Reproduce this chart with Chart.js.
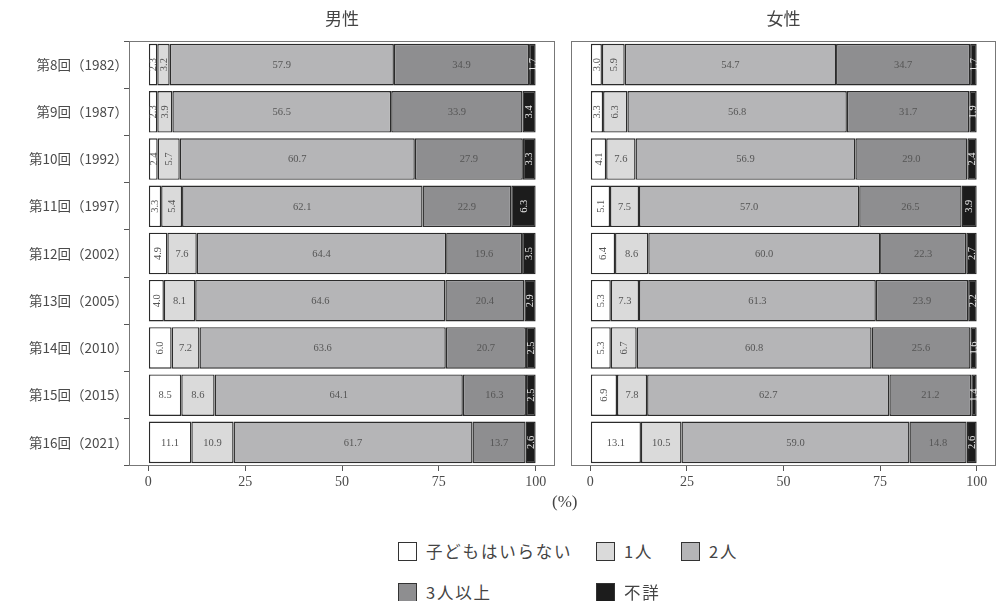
<!DOCTYPE html>
<html>
<head>
<meta charset="utf-8">
<script src="https://cdn.jsdelivr.net/npm/chart.js@4/dist/chart.umd.min.js"></script>
<style>
  html, body { margin:0; padding:0; background:#fff; }
  #wrap { position:relative; width:998px; height:601px; overflow:hidden; font-family:"Noto Sans CJK JP", sans-serif; color:#3a3a3a; }
  .box { position:absolute; top:0; height:520px; }
  #pct { position:absolute; left:552px; top:492px; font:17px "Liberation Serif", serif; color:#444; }
  .lg { position:absolute; display:flex; align-items:center; font-size:16.5px; letter-spacing:1.8px; color:#444; }
  .key { width:19px; height:19px; border:1.5px solid #333; box-sizing:border-box; margin-right:9px; }
</style>
</head>
<body>
<div id="wrap">
  <div class="box" style="left:0;width:558px;"><canvas id="male"></canvas></div>
  <div class="box" style="left:560px;width:438px;"><canvas id="female"></canvas></div>
  <div id="pct">(%)</div>
  <div id="legend"></div>
</div>
<script>
const categories = ['第8回（1982）','第9回（1987）','第10回（1992）','第11回（1997）','第12回（2002）',
                    '第13回（2005）','第14回（2010）','第15回（2015）','第16回（2021）'];
const seriesNames = ['子どもはいらない','1人','2人','3人以上','不詳'];
const seriesColors = ['#ffffff','#dadada','#b5b5b7','#8e8e90','#1c1c1c'];
const xTicks = [0,25,50,75,100];

// 男性
const maleNone  = [2.3, 2.3, 2.4, 3.3, 4.9, 4.0, 6.0, 8.5, 11.1];
const maleOne   = [3.2, 3.9, 5.7, 5.4, 7.6, 8.1, 7.2, 8.6, 10.9];
const maleTwo   = [57.9, 56.5, 60.7, 62.1, 64.4, 64.6, 63.6, 64.1, 61.7];
const maleThree = [34.9, 33.9, 27.9, 22.9, 19.6, 20.4, 20.7, 16.3, 13.7];
const maleNA    = [1.7, 3.4, 3.3, 6.3, 3.5, 2.9, 2.5, 2.5, 2.6];

// 女性
const femaleNone  = [3.0, 3.3, 4.1, 5.1, 6.4, 5.3, 5.3, 6.9, 13.1];
const femaleOne   = [5.9, 6.3, 7.6, 7.5, 8.6, 7.3, 6.7, 7.8, 10.5];
const femaleTwo   = [54.7, 56.8, 56.9, 57.0, 60.0, 61.3, 60.8, 62.7, 59.0];
const femaleThree = [34.7, 31.7, 29.0, 26.5, 22.3, 23.9, 25.6, 21.2, 14.8];
const femaleNA    = [1.7, 1.9, 2.4, 3.9, 2.7, 2.2, 1.6, 1.4, 2.6];

// draws frame, panel title and value labels
const panelPlugin = {
    id:'panel',
    afterDatasetsDraw(chart, args, opts) {
        const ctx = chart.ctx;
        ctx.save();
        ctx.font = '10.5px "Liberation Serif", serif';
        ctx.textAlign = 'center'; ctx.textBaseline = 'middle';
        chart.data.datasets.forEach((ds, di) => {
            chart.getDatasetMeta(di).data.forEach((bar, i) => {
                const v = ds.data[i];
                const cx = (bar.x + bar.base) / 2, cy = bar.y;
                ctx.fillStyle = di === 4 ? '#e8e8e8' : '#555';
                ctx.save(); ctx.translate(cx, cy);
                if (v < 7) ctx.rotate(-Math.PI/2);
                ctx.fillText(v.toFixed(1), 0, 0.5);
                ctx.restore();
            });
        });
        const a = chart.chartArea;
        ctx.strokeStyle = '#777'; ctx.lineWidth = 1;
        ctx.strokeRect(Math.round(a.left)+0.5, Math.round(a.top)+0.5, Math.round(a.right-a.left)-1, Math.round(a.bottom-a.top)-1);
        ctx.font = '17px "Noto Sans CJK JP", sans-serif';
        ctx.fillStyle = '#444';
        ctx.fillText(opts.title, (a.left + a.right) / 2, 19);
        ctx.restore();
    }
};

function makeChart(id, title, vals, showY, pad) {
    return new Chart(document.getElementById(id), {
        type:'bar',
        data:{ labels:categories,
               datasets: vals.map((d, k) => ({ label:seriesNames[k], data:d, backgroundColor:seriesColors[k],
                    borderColor:'#2b2b2b', borderWidth:1.4, borderSkipped:false,
                    barPercentage:0.88, categoryPercentage:1 })) },
        options:{ indexAxis:'y', responsive:true, maintainAspectRatio:false, animation:false,
            layout:{ padding:pad },
            plugins:{ legend:{display:false}, tooltip:{enabled:false}, title:{display:false}, panel:{ title } },
            scales:{
                x:{ stacked:true, min:-5, max:105,
                    afterBuildTicks: s => { s.ticks = xTicks.map(v => ({value:v})); },
                    afterFit: s => { s.height = 54; },
                    grid:{ drawOnChartArea:false, drawTicks:true, tickLength:5, color:'#555' },
                    border:{ display:false },
                    ticks:{ padding:3, color:'#4a4a4a', font:{ family:'"Liberation Serif", serif', size:14 } } },
                y:{ stacked:true, display:showY,
                    afterFit: s => { if (showY) s.width = 129; },
                    grid:{ drawOnChartArea:false, drawTicks:true, tickLength:5, color:'#555' },
                    border:{ display:false },
                    ticks:{ padding:-4, color:'#4a4a4a', font:{ family:'"Noto Sans CJK JP", sans-serif', size:13.5 } } }
            } },
        plugins:[panelPlugin]
    });
}

makeChart('male', '男性', [maleNone, maleOne, maleTwo, maleThree, maleNA], true, {top:41, right:3, left:0, bottom:0});
makeChart('female', '女性', [femaleNone, femaleOne, femaleTwo, femaleThree, femaleNA], false, {top:41, right:2, left:11, bottom:0});

// legend, two rows like the original
const lgPos = [[398,550],[596,550],[681,550],[398,591],[596,591]];
const lg = document.getElementById('legend');
seriesNames.forEach((n, k) => {
    const d = document.createElement('div'); d.className = 'lg';
    d.style.left = lgPos[k][0] + 'px'; d.style.top = (lgPos[k][1] - 11) + 'px';
    const key = document.createElement('div'); key.className = 'key'; key.style.background = seriesColors[k];
    const t = document.createElement('span'); t.textContent = n;
    d.appendChild(key); d.appendChild(t); lg.appendChild(d);
});
</script>
</body>
</html>
